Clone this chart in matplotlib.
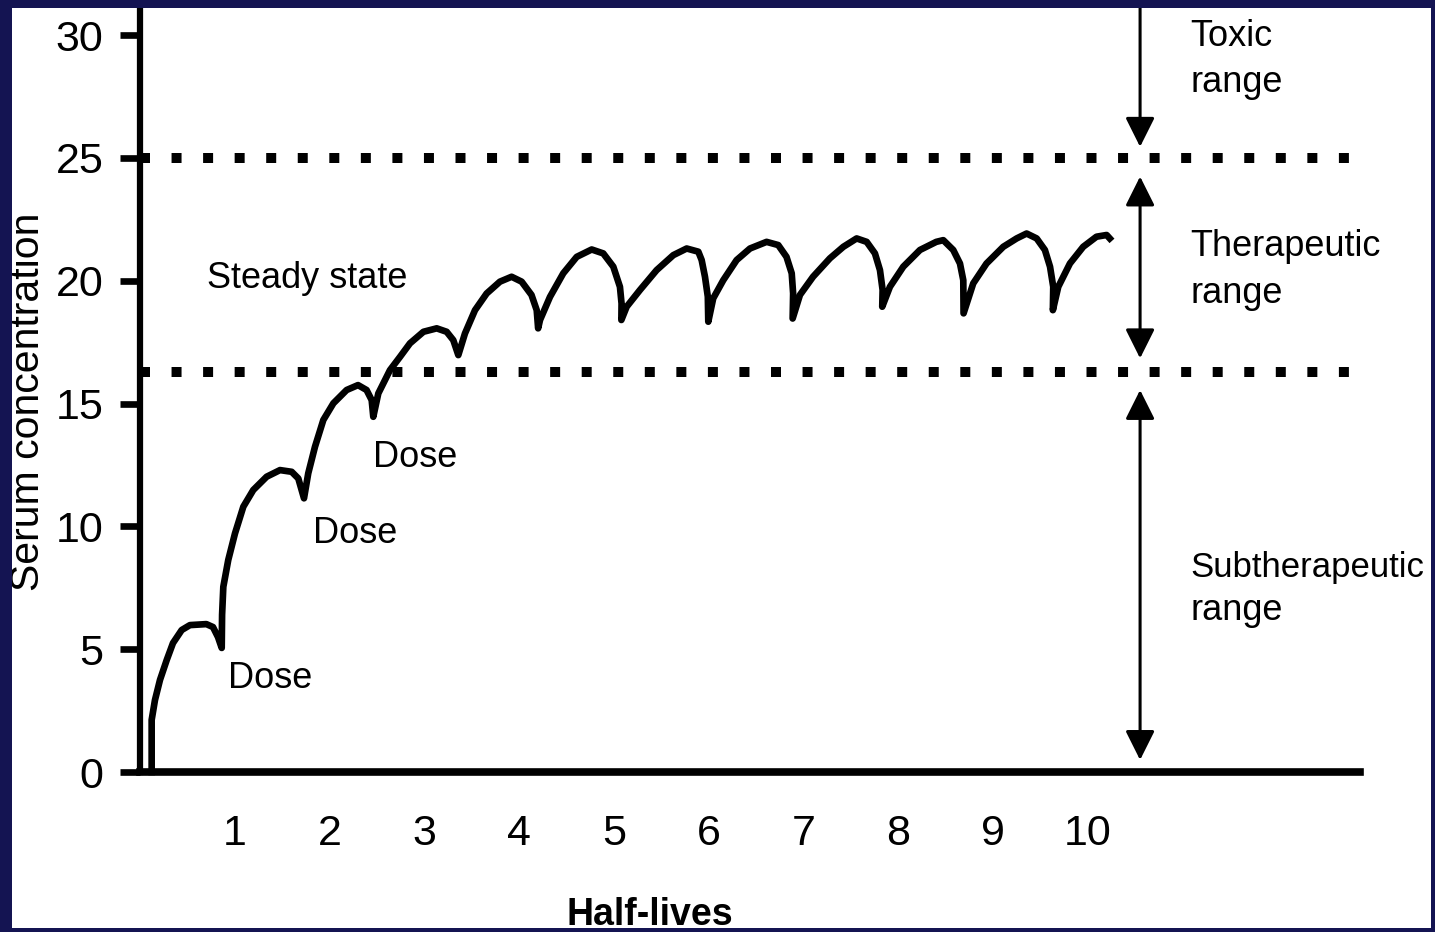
import matplotlib
matplotlib.use("Agg")
import matplotlib.pyplot as plt
from matplotlib.patches import Rectangle

plt.rcParams["font.family"] = ["Liberation Sans", "DejaVu Sans"]

# serum concentration curve
half_lives = [
    0.123, 0.123, 0.158, 0.211, 0.282, 0.348, 0.44, 0.527, 0.70, 0.77, 0.823, 0.862,
    0.866, 0.879, 0.931, 1.002, 1.09, 1.195, 1.336, 1.477, 1.60, 1.67, 1.73,
    1.775, 1.846, 1.934, 2.04, 2.18, 2.30, 2.39, 2.444, 2.461,
    2.514, 2.637, 2.743, 2.848, 2.99, 3.13, 3.235, 3.305, 3.358,
    3.428, 3.534, 3.657, 3.797, 3.92, 4.026, 4.13, 4.185, 4.20,
    4.22, 4.325, 4.465, 4.607, 4.765, 4.887, 4.993, 5.063, 5.08, 5.078,
    5.134, 5.274, 5.45, 5.626, 5.767, 5.89, 5.925, 5.96, 5.99, 5.995,
    6.047, 6.153, 6.294, 6.435, 6.61, 6.733, 6.82, 6.875, 6.89, 6.885,
    6.962, 7.10, 7.278, 7.42, 7.56, 7.666, 7.753, 7.806, 7.834, 7.83,
    7.911, 8.052, 8.228, 8.40, 8.474, 8.579, 8.65, 8.685, 8.688,
    8.79, 8.93, 9.107, 9.248, 9.353, 9.459, 9.546, 9.60, 9.634, 9.63,
    9.687, 9.81, 9.95, 10.09, 10.197, 10.23,
]
concentration = [
    0, 2.12, 2.93, 3.75, 4.56, 5.25, 5.78, 5.98, 6.02, 5.90, 5.49, 5.05,
    6.4, 7.54, 8.63, 9.71, 10.8, 11.48, 12.02, 12.29, 12.22, 11.95, 11.14,
    12.16, 13.24, 14.33, 15.01, 15.55, 15.75, 15.55, 15.14, 14.46,
    15.41, 16.36, 16.90, 17.45, 17.92, 18.06, 17.92, 17.58, 16.97,
    17.85, 18.80, 19.48, 19.96, 20.16, 19.96, 19.42, 18.80, 18.06,
    18.40, 19.34, 20.30, 20.97, 21.27, 21.11, 20.57, 19.75, 19.07, 18.40,
    18.94, 19.62, 20.43, 21.04, 21.31, 21.18, 20.84, 20.16, 19.35, 18.33,
    19.28, 20.02, 20.84, 21.31, 21.58, 21.45, 20.97, 20.30, 19.48, 18.46,
    19.42, 20.16, 20.91, 21.38, 21.72, 21.58, 21.11, 20.43, 19.62, 18.94,
    19.75, 20.57, 21.25, 21.58, 21.65, 21.25, 20.70, 20.02, 18.67,
    19.89, 20.70, 21.38, 21.72, 21.92, 21.72, 21.25, 20.57, 19.75, 18.80,
    19.75, 20.70, 21.38, 21.79, 21.86, 21.72,
]

toxic_level = 25.0
subtherapeutic_level = 16.3
y_ticks = [0, 5, 10, 15, 20, 25, 30]
x_ticks = [1, 2, 3, 4, 5, 6, 7, 8, 9, 10]

NAVY = "#141452"
W, H = 1435, 932

fig = plt.figure(figsize=(W / 100, H / 100), dpi=100, facecolor="white")
ax = fig.add_axes([140 / W, (H - 772) / H, 1220 / W, 764 / H])
ax.set_facecolor("none")
ax.set_xlim(0, 12.87)
ax.set_ylim(0, 31.1)

for side in ["top", "right"]:
    ax.spines[side].set_visible(False)
ax.spines["left"].set_linewidth(4.5)
ax.spines["bottom"].set_linewidth(5.5)

ax.set_yticks(y_ticks)
ax.set_xticks(x_ticks)
ax.tick_params(axis="y", length=14.4, width=4.8, labelsize=31, pad=12)
ax.tick_params(axis="x", length=0, labelsize=31, pad=30)

# range boundaries
for level in [toxic_level, subtherapeutic_level]:
    ax.plot([0, 12.75], [level, level], color="black", lw=7.2,
            linestyle=(0, (1, 2.155)), dash_capstyle="butt", clip_on=False)

ax.plot(half_lives, concentration, color="black", lw=4.8, clip_on=False)

# range arrows
arrow_x = 10.55
head = dict(mutation_scale=18, lw=2.2, color="black", shrinkA=0, shrinkB=0)
ax.annotate("", xy=(arrow_x, 25.45), xytext=(arrow_x, 31.1), annotation_clip=False,
            arrowprops=dict(arrowstyle="-|>,head_length=1.0,head_width=0.5", **head))
ax.annotate("", xy=(arrow_x, 16.84), xytext=(arrow_x, 24.24), annotation_clip=False,
            arrowprops=dict(arrowstyle="<|-|>,head_length=1.0,head_width=0.5", **head))
ax.annotate("", xy=(arrow_x, 0.49), xytext=(arrow_x, 15.55), annotation_clip=False,
            arrowprops=dict(arrowstyle="<|-|>,head_length=1.0,head_width=0.5", **head))

txt = dict(fontsize=26, va="baseline", ha="left", clip_on=False)
ax.text(11.08, 29.55, "Toxic", **txt)
ax.text(11.08, 27.7, "range", **txt)
ax.text(11.08, 21.0, "Therapeutic", **txt)
ax.text(11.08, 19.1, "range", **txt)
ax.text(11.08, 7.95, "Subtherapeutic", **dict(txt, fontsize=25))
ax.text(11.08, 6.19, "range", **txt)

note = dict(fontsize=26, va="baseline", ha="left")
ax.text(0.707, 19.7, "Steady state", **note)
ax.text(0.928, 3.42, "Dose", **note)
ax.text(1.825, 9.32, "Dose", **note)
ax.text(2.458, 12.43, "Dose", **note)

ax.set_ylabel("Serum concentration", fontsize=29.5)
ax.yaxis.label.set_va("center")
ax.yaxis.set_label_coords(-0.092, 0.484)

ax.set_xlabel("Half-lives", fontsize=27, fontweight="bold")
ax.xaxis.label.set_va("baseline")
ax.xaxis.set_label_coords(0.418, -0.2)

# dark slide frame drawn over everything
for x0, y0, w, h in [(0, 0, 12, H), (1431, 0, 4, H), (0, H - 8, W, 8), (0, 0, W, 4)]:
    fig.add_artist(Rectangle((x0 / W, y0 / H), w / W, h / H, transform=fig.transFigure,
                             facecolor=NAVY, edgecolor="none", zorder=10))

fig.savefig("out.png", dpi=100)
